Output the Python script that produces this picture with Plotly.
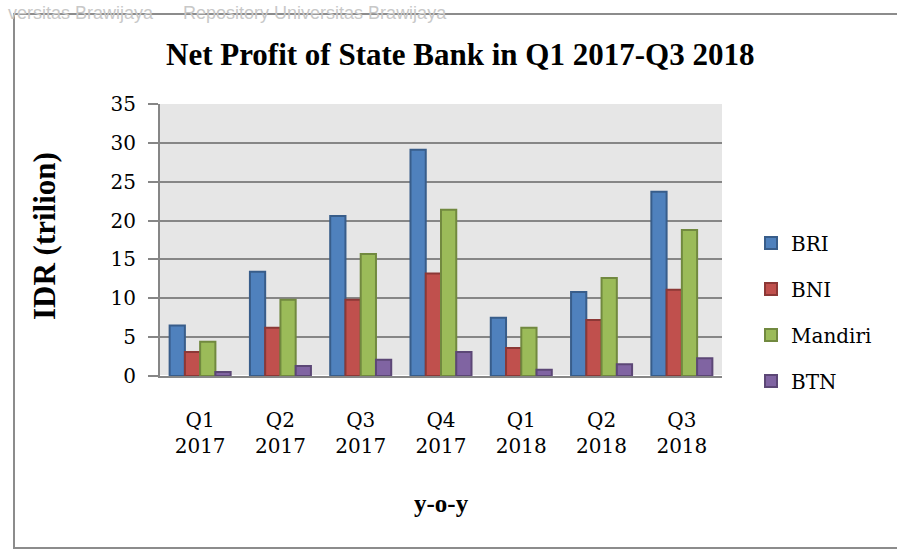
import plotly.graph_objects as go

categories = ["Q1<br>2017", "Q2<br>2017", "Q3<br>2017", "Q4<br>2017", "Q1<br>2018", "Q2<br>2018", "Q3<br>2018"]
bri = [6.5, 13.4, 20.6, 29.1, 7.5, 10.8, 23.7]
bni = [3.1, 6.2, 9.8, 13.2, 3.6, 7.2, 11.1]
mandiri = [4.4, 9.8, 15.7, 21.4, 6.2, 12.6, 18.8]
btn = [0.5, 1.3, 2.1, 3.1, 0.8, 1.5, 2.3]

series = [
    ("BRI", bri, "#4F81BD", "#385D8A"),
    ("BNI", bni, "#C0504D", "#8C3836"),
    ("Mandiri", mandiri, "#9BBB59", "#71893F"),
    ("BTN", btn, "#8064A2", "#5C4776"),
]

W, H = 897, 552
L, R, T, B = 160, 175, 104, 176
pw, ph = W - L - R, H - T - B

def px(x):
    return (x - L) / pw

def py(y):
    return (H - B - y) / ph

fig = go.Figure()
for name, vals, fill, line in series:
    fig.add_trace(go.Bar(
        x=categories, y=vals, name=name, legendgroup=name,
        marker=dict(color=fill, line=dict(color=line, width=2)),
    ))

serif = "Liberation Serif"
body = "DejaVu Serif"
grid = "#868686"

fig.update_layout(
    width=W, height=H,
    margin=dict(l=L, r=R, t=T, b=B),
    paper_bgcolor="white",
    plot_bgcolor="#E6E6E6",
    barmode="group",
    bargap=0.24,
    bargroupgap=0.0,
    font=dict(family=body, color="black"),
    legend=dict(
        x=px(751), xanchor="left", y=py(312), yanchor="middle",
        font=dict(family=body, size=20),
        tracegroupgap=17,
        bgcolor="rgba(0,0,0,0)",
    ),
    xaxis=dict(
        showgrid=False, showline=True, linecolor=grid, linewidth=2,
        tickfont=dict(family=body, size=20), ticks="",
        ticklabelstandoff=25,
    ),
    yaxis=dict(
        range=[0, 35], dtick=5, showgrid=True, gridcolor=grid, gridwidth=2,
        showline=True, linecolor=grid, linewidth=2,
        ticks="outside", ticklen=10, tickcolor=grid, tickwidth=2,
        tickfont=dict(family=body, size=20),
        ticklabelstandoff=8,
    ),
    annotations=[
        dict(text="<b>Net Profit of State Bank in Q1 2017-Q3 2018</b>",
             xref="paper", yref="paper", x=px(460), y=py(55),
             xanchor="center", yanchor="middle", showarrow=False,
             font=dict(family=serif, size=31)),
        dict(text="<b>IDR (trilion)</b>", textangle=-90,
             xref="paper", yref="paper", x=px(44), y=py(236),
             xanchor="center", yanchor="middle", showarrow=False,
             font=dict(family=serif, size=31)),
        dict(text="<b>y-o-y</b>",
             xref="paper", yref="paper", x=px(441), y=py(503),
             xanchor="center", yanchor="middle", showarrow=False,
             font=dict(family=serif, size=25)),
        dict(text="versitas Brawijaya      Repository Universitas Brawijaya",
             xref="paper", yref="paper", x=px(6), y=py(1),
             xanchor="left", yanchor="top", showarrow=False,
             font=dict(family="Liberation Sans", size=18, color="#C8C8C8")),
    ],
    shapes=[
        dict(type="rect", xref="paper", yref="paper",
             x0=px(14), x1=px(905), y0=py(548), y1=py(14),
             line=dict(color="#8C8C8C", width=2), layer="below"),
    ],
)

fig.write_html("out.html")
